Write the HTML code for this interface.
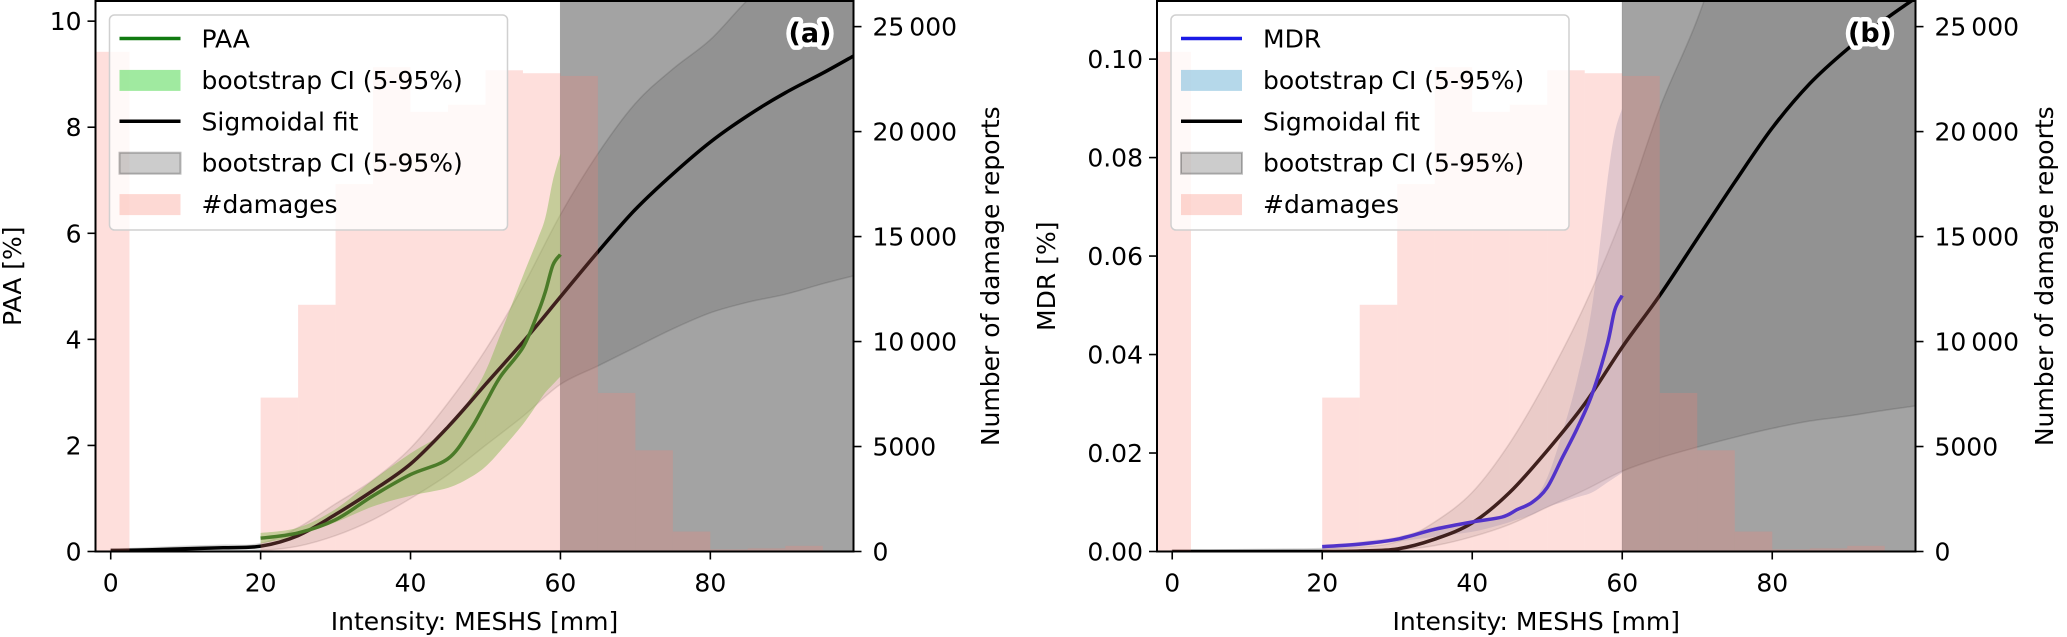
<!DOCTYPE html>
<html><head><meta charset="utf-8"><style>
html,body{margin:0;padding:0;background:#fff;width:2067px;height:637px;overflow:hidden}
svg{display:block;font-family:"DejaVu Sans","Liberation Sans",sans-serif}
</style></head><body>
<svg id="chart" width="2067" height="637" viewBox="0 0 2067 637" xmlns="http://www.w3.org/2000/svg"></svg>
<script>
// ---- data ----
const binStarts = [-2.5, 20, 25, 30, 35, 40, 45, 50, 55, 60, 65, 70, 75, 80, 85, 90, 95];
const binCounts = [23800, 7330, 11750, 17500, 23070, 20940, 21280, 22920, 22780, 22650, 7550, 4820, 950, 100, 150, 270, 20];
const fitX = [0, 5, 10, 15, 20, 25, 30, 35, 40, 45, 50, 55, 60, 65, 70, 75, 80, 85, 90, 95, 99.2];
const paaFit = [0.02, 0.03, 0.05, 0.07, 0.1, 0.3, 0.7, 1.15, 1.65, 2.35, 3.15, 3.95, 4.8, 5.65, 6.45, 7.12, 7.72, 8.22, 8.65, 9.02, 9.35];
const paaFitLo = [0, 0, 0.01, 0.01, 0.02, 0.1, 0.3, 0.6, 1.0, 1.45, 2.0, 2.55, 3.15, 3.5, 3.85, 4.2, 4.5, 4.7, 4.85, 5.05, 5.2];
const paaFitHi = [0.04, 0.07, 0.1, 0.12, 0.15, 0.45, 0.9, 1.35, 1.95, 2.8, 3.8, 5.0, 6.35, 7.5, 8.45, 9.1, 9.65, 10.4, 11.0, 11.6, 12.0];
const obsX = [20, 25, 30, 35, 40, 45, 48, 50, 52, 55, 57, 58, 59, 60];
const paa = [0.25, 0.35, 0.6, 1.05, 1.45, 1.75, 2.3, 2.8, 3.3, 3.85, 4.5, 4.9, 5.4, 5.6];
const paaLo = [0.15, 0.3, 0.55, 0.85, 1.05, 1.2, 1.4, 1.6, 1.9, 2.4, 2.8, 3.0, 3.15, 3.3];
const paaHi = [0.35, 0.45, 0.8, 1.35, 1.85, 2.3, 2.9, 3.4, 4.1, 5.2, 5.9, 6.3, 7.0, 7.5];
const mdrFit = [0, 0, 0, 0, 0, 0.0001, 0.0005, 0.0025, 0.0058, 0.012, 0.0205, 0.030, 0.0415, 0.052, 0.0635, 0.075, 0.086, 0.095, 0.102, 0.108, 0.1125];
const mdrFitLo = [0, 0, 0, 0, 0, 0, 0.0003, 0.0012, 0.003, 0.0055, 0.009, 0.0125, 0.0163, 0.019, 0.0212, 0.0232, 0.025, 0.0265, 0.0275, 0.0287, 0.0296];
const mdrFitHi = [0.0003, 0.0003, 0.0004, 0.0005, 0.0006, 0.0009, 0.002, 0.006, 0.012, 0.022, 0.035, 0.05, 0.068, 0.09, 0.108, 0.13, 0.15, 0.17, 0.19, 0.21, 0.23];
const mdrObsX = [20, 25, 30, 35, 40, 44, 46, 48, 50, 52, 54, 56, 58, 59, 60];
const mdr = [0.001, 0.0015, 0.0025, 0.0045, 0.006, 0.007, 0.0085, 0.01, 0.013, 0.019, 0.025, 0.032, 0.042, 0.049, 0.052];
const mdrLo = [0.0003, 0.001, 0.002, 0.003, 0.004, 0.0055, 0.0065, 0.0075, 0.009, 0.01, 0.011, 0.012, 0.014, 0.015, 0.016];
const mdrHi = [0.001, 0.002, 0.003, 0.005, 0.006, 0.007, 0.008, 0.01, 0.015, 0.024, 0.035, 0.05, 0.075, 0.085, 0.09];
const xTicks = [0, 20, 40, 60, 80];
const aTicks = [0, 2, 4, 6, 8, 10];
const bTicks = [0, 0.02, 0.04, 0.06, 0.08, 0.10];
const bTickLabels = ["0.00", "0.02", "0.04", "0.06", "0.08", "0.10"];
const countTicks = [0, 5000, 10000, 15000, 20000, 25000];
const countTickLabels = ["0", "5000", "10\u2009000", "15\u2009000", "20\u2009000", "25\u2009000"];

const NS = "http://www.w3.org/2000/svg";
const svg = document.getElementById('chart');
function mk(tag, attrs, parent, text) {
  const e = document.createElementNS(NS, tag);
  for (const k in attrs) e.setAttribute(k, attrs[k]);
  if (text !== undefined) e.textContent = text;
  (parent || svg).appendChild(e);
  return e;
}
const defs = mk('defs', {});

// smooth path through points (Catmull-Rom -> cubic Bezier); returns segment string without initial M
function smooth(pts) {
  let d = '';
  for (let i = 0; i < pts.length - 1; i++) {
    const p0 = pts[Math.max(0, i - 1)], p1 = pts[i], p2 = pts[i + 1], p3 = pts[Math.min(pts.length - 1, i + 2)];
    const c1x = p1[0] + (p2[0] - p0[0]) / 6, c1y = p1[1] + (p2[1] - p0[1]) / 6;
    const c2x = p2[0] - (p3[0] - p1[0]) / 6, c2y = p2[1] - (p3[1] - p1[1]) / 6;
    d += 'C' + c1x.toFixed(1) + ',' + c1y.toFixed(1) + ' ' + c2x.toFixed(1) + ',' + c2y.toFixed(1) + ' ' + p2[0].toFixed(1) + ',' + p2[1].toFixed(1);
  }
  return d;
}

function panel(p) {
  const T = 1, B = 551.5;
  const sx = v => p.L + (v - p.xmin) / (p.xmax - p.xmin) * (p.R - p.L);
  const sy = v => B - v / p.ymax * (B - T);
  const sc = v => B - v / 26220 * (B - T);
  const g = mk('g', {});
  
  
  const cp = mk('clipPath', { id: 'clip-' + p.name }, defs);
  mk('rect', { x: p.L, y: T, width: p.R - p.L, height: B - T }, cp);
  const plot = mk('g', { 'clip-path': 'url(#clip-' + p.name + ')' }, g);
  const sh = mk('rect', { x: sx(60), y: T, width: p.R - sx(60), height: B - T, fill: 'rgba(0,0,0,0.36)', stroke: 'rgba(0,0,0,0.2)' }, plot);
  
  
  const band = (xs, lo, hi, fill, stroke, name) => {
    const a = xs.map((x, i) => [sx(x), sy(lo[i])]);
    const b = xs.map((x, i) => [sx(x), sy(hi[i])]).reverse();
    const d = 'M' + a[0][0].toFixed(1) + ',' + a[0][1].toFixed(1) + smooth(a) + 'L' + b[0][0].toFixed(1) + ',' + b[0][1].toFixed(1) + smooth(b) + 'Z';
    const e = mk('path', { d: d, fill: fill, stroke: stroke, 'stroke-width': 1.5 }, plot);
    
    
  };
  const line = (xs, ys, col, w, name) => {
    const a = xs.map((x, i) => [sx(x), sy(ys[i])]);
    const e = mk('path', { d: 'M' + a[0][0].toFixed(1) + ',' + a[0][1].toFixed(1) + smooth(a), fill: 'none', stroke: col, 'stroke-width': w, 'stroke-linejoin': 'round' }, plot);
    
    
  };
  band(fitX, p.fitLo, p.fitHi, 'rgba(0,0,0,0.1)', 'rgba(0,0,0,0.12)', 'fit-ci-band');
  band(p.obsX, p.lo, p.hi, p.bandCol, 'none', p.name + '-ci-band');
  line(fitX, p.fit, '#000', 3.5, 'sigmoidal-fit-line');
  line(p.obsX, p.obs, p.lineCol, 3.5, p.name + '-line');
  binStarts.forEach((s, i) => {
    const r = mk('rect', { x: sx(s), y: sc(binCounts[i]), width: sx(s + 5) - sx(s), height: B - sc(binCounts[i]), fill: 'rgba(250,128,114,0.25)' }, plot);
    
    
  });
  const lg = mk('g', {}, g);
  
  
  const lx = p.L + 14;
  mk('rect', { x: lx, y: 15, width: p.legW, height: 215, rx: 5, fill: 'rgba(255,255,255,0.8)', stroke: '#d0d0d0', 'stroke-width': 1.5 }, lg);
  const items = [
    ['line', p.lineCol, p.label],
    ['patch', p.legBand, 'bootstrap CI (5-95%)'],
    ['line', '#000', 'Sigmoidal fit'],
    ['patch', 'rgba(0,0,0,0.2)', 'bootstrap CI (5-95%)'],
    ['patch', 'rgba(250,128,114,0.3)', '#damages']
  ];
  items.forEach((it, i) => {
    const cy = 38.5 + i * 41.4;
    const eg = mk('g', {}, lg);
    
    
    if (it[0] === 'line') mk('line', { x1: lx + 10, x2: lx + 71, y1: cy, y2: cy, stroke: it[1], 'stroke-width': 3.5 }, eg);
    else mk('rect', { x: lx + 10, y: cy - 10, width: 61, height: 21, fill: it[1], stroke: i === 3 ? 'rgba(0,0,0,0.25)' : 'none', 'stroke-width': 2 }, eg);
    mk('text', { x: lx + 92, y: cy + 9, 'font-size': 25, fill: '#000' }, eg, it[2]);
  });
  const tg = mk('text', { x: p.tagX, y: 42, 'font-size': 27, 'font-weight': 'bold', 'text-anchor': 'middle', stroke: '#fff', 'stroke-width': 9, 'stroke-linejoin': 'round', 'paint-order': 'stroke', fill: '#000' }, g, p.tag);
  
  
  mk('rect', { x: p.L, y: T, width: p.R - p.L, height: B - T, fill: 'none', stroke: '#000', 'stroke-width': 2 }, g);
  const xa = mk('g', {}, g);
  
  
  xTicks.forEach(t => {
    mk('line', { x1: sx(t), x2: sx(t), y1: B, y2: B + 8, stroke: '#000', 'stroke-width': 1.6 }, xa);
    mk('text', { x: sx(t), y: B + 40, 'font-size': 25, 'text-anchor': 'middle' }, xa, String(t));
  });
  const xt = mk('text', { x: (p.L + p.R) / 2, y: 630, 'font-size': 25, 'text-anchor': 'middle' }, g, 'Intensity: MESHS [mm]');
  
  
  const ya = mk('g', {}, g);
  
  
  p.yTicks.forEach((t, i) => {
    mk('line', { x1: p.L - 8, x2: p.L, y1: sy(t), y2: sy(t), stroke: '#000', 'stroke-width': 1.6 }, ya);
    mk('text', { x: p.L - 14, y: sy(t) + 9, 'font-size': 25, 'text-anchor': 'end' }, ya, p.yLabels[i]);
  });
  const yt = mk('text', { x: 0, y: 0, 'font-size': 25, 'text-anchor': 'middle', transform: 'translate(' + (p.yTitleX + 9) + ',' + ((T + B) / 2) + ') rotate(-90)' }, g, p.yTitle);
  
  
  const ra = mk('g', {}, g);
  
  
  countTicks.forEach((t, i) => {
    mk('line', { x1: p.R, x2: p.R + 8, y1: sc(t), y2: sc(t), stroke: '#000', 'stroke-width': 1.6 }, ra);
    mk('text', { x: p.R + 19, y: sc(t) + 9, 'font-size': 25 }, ra, countTickLabels[i]);
  });
  const rt = mk('text', { x: 0, y: 0, 'font-size': 25, 'text-anchor': 'middle', transform: 'translate(' + (p.rTitleX + 9) + ',' + ((T + B) / 2) + ') rotate(-90)' }, g, 'Number of damage reports');
  
  
}

panel({ name: 'paa', L: 95.5, R: 853.5, xmin: -2.03, xmax: 99.1, ymax: 10.38,
  fit: paaFit, fitLo: paaFitLo, fitHi: paaFitHi, obsX: obsX, obs: paa, lo: paaLo, hi: paaHi,
  lineCol: '#117a11', bandCol: 'rgba(90,200,60,0.45)', legBand: 'rgba(120,225,120,0.7)', label: 'PAA',
  legW: 398, tag: '(a)', tagX: 810, yTicks: aTicks, yLabels: aTicks.map(String), yTitle: 'PAA [%]', yTitleX: 12, rTitleX: 990 });
panel({ name: 'mdr', L: 1157, R: 1915.5, xmin: -2.03, xmax: 99.1, ymax: 0.1118,
  fit: mdrFit, fitLo: mdrFitLo, fitHi: mdrFitHi, obsX: mdrObsX, obs: mdr, lo: mdrLo, hi: mdrHi,
  lineCol: '#1a1ae6', bandCol: 'rgba(130,150,190,0.3)', legBand: 'rgba(150,200,225,0.7)', label: 'MDR',
  legW: 398, tag: '(b)', tagX: 1870, yTicks: bTicks, yLabels: bTickLabels, yTitle: 'MDR [%]', yTitleX: 1046, rTitleX: 2044 });
</script>
</body></html>
